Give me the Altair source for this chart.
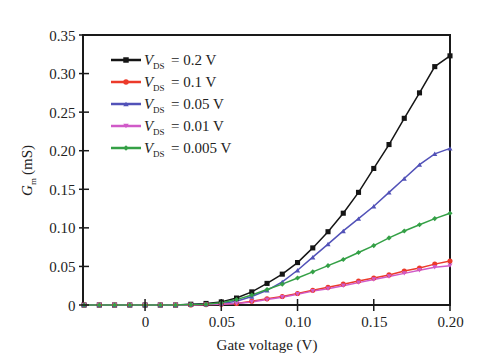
import altair as alt
import pandas as pd

gate_v = [-0.04, -0.03, -0.02, -0.01, 0.00, 0.01, 0.02, 0.03, 0.04, 0.05, 0.06, 0.07,
          0.08, 0.09, 0.10, 0.11, 0.12, 0.13, 0.14, 0.15, 0.16, 0.17, 0.18, 0.19, 0.20]

series_names = ["0.2 V", "0.1 V", "0.05 V", "0.01 V", "0.005 V"]
gm_02 = [0, 0, 0, 0, 0, 0, 0, 0.001, 0.002, 0.004, 0.009, 0.017,
         0.028, 0.040, 0.055, 0.074, 0.095, 0.119, 0.146, 0.177, 0.208, 0.242, 0.275, 0.309, 0.323]
gm_01 = [0, 0, 0, 0, 0, 0, 0, 0, 0.0005, 0.001, 0.002, 0.005,
         0.008, 0.011, 0.015, 0.019, 0.023, 0.027, 0.031, 0.035, 0.039, 0.044, 0.048, 0.053, 0.057]
gm_005 = [0, 0, 0, 0, 0, 0, 0, 0.0005, 0.001, 0.002, 0.005, 0.011,
          0.019, 0.030, 0.045, 0.062, 0.079, 0.096, 0.112, 0.128, 0.146, 0.164, 0.182, 0.196, 0.203]
gm_001 = [0, 0, 0, 0, 0, 0, 0, 0, 0.0005, 0.001, 0.002, 0.004,
          0.007, 0.010, 0.014, 0.018, 0.021, 0.025, 0.029, 0.033, 0.037, 0.041, 0.045, 0.049, 0.051]
gm_0005 = [0, 0, 0, 0, 0, 0, 0, 0.0005, 0.001, 0.003, 0.007, 0.013,
           0.020, 0.027, 0.035, 0.043, 0.051, 0.059, 0.068, 0.077, 0.087, 0.096, 0.104, 0.112, 0.119]

colors = ["#151515", "#ec3a2a", "#5252b8", "#d05ac8", "#34a046"]
shapes = ["square", "circle", "triangle-up", "triangle-down", "diamond"]

x_ticks = [0, 0.05, 0.10, 0.15, 0.20]
y_ticks = [0, 0.05, 0.10, 0.15, 0.20, 0.25, 0.30, 0.35]

all_series = [gm_02, gm_01, gm_005, gm_001, gm_0005]
rows = []
for name, vals in zip(series_names, all_series):
    for xv, yv in zip(gate_v, vals):
        rows.append({"Vg": xv, "Gm": yv, "series": name})
df = pd.DataFrame(rows)

FONT = "Liberation Serif"
W, H = 367, 270
INK = "#222222"
FRAME = "#1a1a1a"

xscale = alt.Scale(domain=[-0.0407, 0.2], nice=False, zero=False)
yscale = alt.Scale(domain=[0, 0.35], nice=False, zero=True)
cscale = alt.Scale(domain=series_names, range=colors)
sscale = alt.Scale(domain=series_names, range=shapes)

lab0 = "datum.value == 0 ? '0' : format(datum.value, '.2f')"

xaxis = alt.Axis(values=x_ticks, labelExpr=lab0, title="Gate voltage (V)",
                 grid=False, ticks=False, domain=False, labelPadding=9,
                 labelFont=FONT, labelFontSize=15, labelColor=INK,
                 labelOverlap=False, labelFlush=False,
                 titleFont=FONT, titleFontSize=15, titleFontWeight="normal",
                 titleColor=INK, titlePadding=8)
yaxis = alt.Axis(values=y_ticks, labelExpr=lab0, title=None, grid=False,
                 ticks=False, domain=False,
                 labelPadding=8, labelOverlap=False, labelFlush=False,
                 labelFont=FONT, labelFontSize=15, labelColor=INK)

base = alt.Chart(df).encode(
    x=alt.X("Vg:Q", scale=xscale, axis=xaxis),
    y=alt.Y("Gm:Q", scale=yscale, axis=yaxis),
    color=alt.Color("series:N", scale=cscale, legend=None),
)

lines = base.mark_line(strokeWidth=1.5)
points = base.mark_point(filled=True, size=26, opacity=1).encode(
    shape=alt.Shape("series:N", scale=sscale, legend=None))

one = alt.Data(values=[{"k": 1}])

xt = alt.Chart(pd.DataFrame({"Vg": x_ticks})).mark_tick(
    color=FRAME, thickness=1.5, size=12, orient="vertical", opacity=1).encode(
    x=alt.X("Vg:Q", scale=xscale, axis=xaxis), y=alt.value(H))
yt = alt.Chart(pd.DataFrame({"Gm": y_ticks})).mark_tick(
    color=FRAME, thickness=1.5, size=10, orient="horizontal", opacity=1).encode(
    y=alt.Y("Gm:Q", scale=yscale, axis=yaxis), x=alt.value(1))

layers = [lines, points, xt, yt]

# legend
for i, (name, col, shp) in enumerate(zip(series_names, colors, shapes)):
    ry = 25 + 22 * i
    layers.append(alt.Chart(one).mark_rule(color=col, strokeWidth=2.5).encode(
        x=alt.value(28), x2=alt.value(58), y=alt.value(ry)))
    layers.append(alt.Chart(one).mark_point(filled=True, shape=shp, size=30, color=col, opacity=1).encode(
        x=alt.value(43), y=alt.value(ry)))
    layers.append(alt.Chart(one).mark_text(text="V", font=FONT, fontSize=15, fontStyle="italic",
                                            align="left", baseline="alphabetic", color=INK).encode(
        x=alt.value(61), y=alt.value(ry + 5)))
    layers.append(alt.Chart(one).mark_text(text="DS", font=FONT, fontSize=9,
                                            align="left", baseline="alphabetic", color=INK).encode(
        x=alt.value(70), y=alt.value(ry + 9)))
    layers.append(alt.Chart(one).mark_text(text="= " + name, font=FONT, fontSize=15,
                                            align="left", baseline="alphabetic", color=INK).encode(
        x=alt.value(88), y=alt.value(ry + 5)))

# y-axis title: G_m (mS)
layers.append(alt.Chart(one).mark_text(text="G", font=FONT, fontSize=15, fontStyle="italic",
                                        angle=270, align="left", baseline="middle", color=INK).encode(
    x=alt.value(-56), y=alt.value(161)))
layers.append(alt.Chart(one).mark_text(text="m", font=FONT, fontSize=9,
                                        angle=270, align="left", baseline="middle", color=INK).encode(
    x=alt.value(-50), y=alt.value(150)))
layers.append(alt.Chart(one).mark_text(text="(mS)", font=FONT, fontSize=15,
                                        angle=270, align="left", baseline="middle", color=INK).encode(
    x=alt.value(-56), y=alt.value(140)))

chart = alt.layer(*layers).properties(
    width=W, height=H,
    padding={"left": 12, "top": 20, "right": 14, "bottom": 10},
    background="white",
).configure_view(stroke=FRAME, strokeWidth=2)

chart.save("out.html", embed_options={"renderer": "svg", "actions": False})
